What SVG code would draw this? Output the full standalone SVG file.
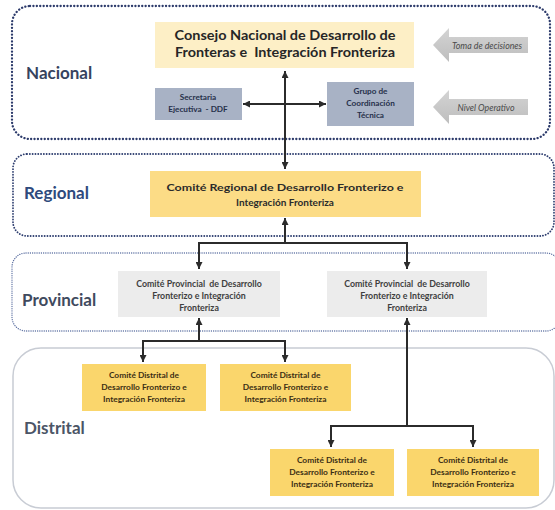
<svg xmlns="http://www.w3.org/2000/svg" width="555" height="510" viewBox="0 0 555 510">
<defs>
<marker id="ah" viewBox="0 0 10 10" refX="10" refY="5" markerWidth="7" markerHeight="7" markerUnits="userSpaceOnUse" orient="auto-start-reverse">
<path d="M0 0 L10 5 L0 10 Z" fill="#2b2b2b"/>
</marker>
<linearGradient id="ga" x1="0" y1="0" x2="0" y2="1">
<stop offset="0" stop-color="#d4d4d4"/>
<stop offset="1" stop-color="#bdbdbd"/>
</linearGradient>
</defs>
<style>
.lvl{font-family:Lato,"Open Sans",sans-serif;font-weight:700;font-size:17px}
.t{font-family:Lato,"Open Sans",sans-serif;font-weight:700;text-anchor:middle;dominant-baseline:central}
.cons{font-size:13.5px;fill:#262626}
.reg{font-size:10px;fill:#2b2b2b}
.prov{font-size:8.8px;fill:#3f3f3f}
.dist{font-size:8.4px;fill:#3a2e14}
.sec{font-size:8.2px;fill:#26304a}
.side{font-family:Lato,"Open Sans",sans-serif;font-style:italic;font-size:8.8px;fill:#4a4a4a;text-anchor:middle;dominant-baseline:central}
.conn{fill:none;stroke:#2b2b2b;stroke-width:2}
.gold{fill:#fad66c}
.prv{fill:#ececec}
</style>

<g id="containers">
<rect id="nacional-frame" x="12" y="6" width="538" height="133" rx="18" fill="none" stroke="#2d3b6b" stroke-width="2.3" stroke-dasharray="0.1 3.3" stroke-linecap="round"/>
<rect id="regional-frame" x="13" y="154" width="541" height="82" rx="14" fill="none" stroke="#2f3f70" stroke-width="1.8" stroke-dasharray="0.1 2.7" stroke-linecap="round"/>
<rect id="provincial-frame" x="12" y="253" width="548" height="78" rx="14" fill="none" stroke="#5a6ea0" stroke-width="1.3" stroke-dasharray="0.1 2.1" stroke-linecap="round"/>
<rect id="distrital-frame" x="13" y="348" width="541" height="160" rx="28" fill="none" stroke="#c8ccd4" stroke-width="1.5"/>
</g>

<g id="labels">
<text class="lvl" x="26" y="79" fill="#36435e">Nacional</text>
<text class="lvl" x="24" y="199" fill="#2e4a7d">Regional</text>
<text class="lvl" x="22" y="306" fill="#3f4a5e">Provincial</text>
<text class="lvl" x="24" y="434" fill="#4b5566">Distrital</text>
</g>

<g id="consejo">
<rect x="155" y="22" width="259" height="46" fill="#fdefc6"/>
<text class="t cons" x="285" y="35" textLength="221" lengthAdjust="spacingAndGlyphs">Consejo Nacional de Desarrollo de</text>
<text class="t cons" x="285" y="52" textLength="220" lengthAdjust="spacingAndGlyphs" xml:space="preserve">Fronteras e  Integración Fronteriza</text>
</g>

<g id="toma-decisiones">
<path d="M433 45 L449 28 L449 37 L528 37 L528 53 L449 53 L449 62 Z" fill="url(#ga)"/>
<text class="side" x="487" y="45">Toma de decisiones</text>
</g>

<g id="nivel-operativo">
<path d="M433 107 L449 90 L449 99 L528 99 L528 115 L449 115 L449 124 Z" fill="url(#ga)"/>
<text class="side" x="486" y="107">Nivel Operativo</text>
</g>

<g id="secretaria">
<rect x="155" y="88" width="87" height="32" fill="#a8b2c5"/>
<text class="t sec" x="198" y="97">Secretaria</text>
<text class="t sec" x="198" y="109" xml:space="preserve">Ejecutiva  - DDF</text>
</g>

<g id="grupo">
<rect x="327" y="82" width="87" height="44" fill="#a8b2c5"/>
<text class="t sec" x="370.5" y="91">Grupo de</text>
<text class="t sec" x="370.5" y="103">Coordinación</text>
<text class="t sec" x="370.5" y="115">Técnica</text>
</g>

<g id="regional">
<rect x="150" y="171" width="271" height="46" fill="#fcdc86"/>
<text class="t reg" x="285" y="187" textLength="237" lengthAdjust="spacingAndGlyphs">Comité Regional de Desarrollo Fronterizo e</text>
<text class="t reg" x="285" y="202">Integración Fronteriza</text>
</g>

<g id="provincial-1">
<rect x="118" y="271" width="162" height="46" class="prv"/>
<text class="t prov" x="199" y="283" xml:space="preserve">Comité Provincial  de Desarrollo</text>
<text class="t prov" x="199" y="295">Fronterizo e Integración</text>
<text class="t prov" x="199" y="307">Fronteriza</text>
</g>

<g id="provincial-2">
<rect x="327" y="271" width="160" height="46" class="prv"/>
<text class="t prov" x="407" y="283" xml:space="preserve">Comité Provincial  de Desarrollo</text>
<text class="t prov" x="407" y="295">Fronterizo e Integración</text>
<text class="t prov" x="407" y="307">Fronteriza</text>
</g>

<g id="distrital-1">
<rect x="82" y="364" width="124" height="47" class="gold"/>
<text class="t dist" x="144" y="375">Comité Distrital de</text>
<text class="t dist" x="144" y="387">Desarrollo Fronterizo e</text>
<text class="t dist" x="144" y="399">Integración Fronteriza</text>
</g>

<g id="distrital-2">
<rect x="220" y="364" width="131" height="47" class="gold"/>
<text class="t dist" x="285.5" y="375">Comité Distrital de</text>
<text class="t dist" x="285.5" y="387">Desarrollo Fronterizo e</text>
<text class="t dist" x="285.5" y="399">Integración Fronteriza</text>
</g>

<g id="distrital-3">
<rect x="270" y="449" width="124" height="47" class="gold"/>
<text class="t dist" x="332" y="460">Comité Distrital de</text>
<text class="t dist" x="332" y="472">Desarrollo Fronterizo e</text>
<text class="t dist" x="332" y="484">Integración Fronteriza</text>
</g>

<g id="distrital-4">
<rect x="407" y="449" width="132" height="47" class="gold"/>
<text class="t dist" x="473" y="460">Comité Distrital de</text>
<text class="t dist" x="473" y="472">Desarrollo Fronterizo e</text>
<text class="t dist" x="473" y="484">Integración Fronteriza</text>
</g>

<g id="connectors">
<path class="conn" d="M285 71 L285 169" marker-start="url(#ah)" marker-end="url(#ah)"/>
<path class="conn" d="M243 104 L326 104" marker-start="url(#ah)" marker-end="url(#ah)"/>
<path class="conn" d="M285 218 L285 243" marker-start="url(#ah)"/>
<path class="conn" d="M199 269 L199 243 L407 243 L407 269" marker-start="url(#ah)" marker-end="url(#ah)"/>
<path class="conn" d="M199 318 L199 341" marker-start="url(#ah)"/>
<path class="conn" d="M143 362 L143 341 L285 341 L285 362" marker-start="url(#ah)" marker-end="url(#ah)"/>
<path class="conn" d="M407 318 L407 426" marker-start="url(#ah)"/>
<path class="conn" d="M331 447 L331 426 L473 426 L473 447" marker-start="url(#ah)" marker-end="url(#ah)"/>
</g>
</svg>
